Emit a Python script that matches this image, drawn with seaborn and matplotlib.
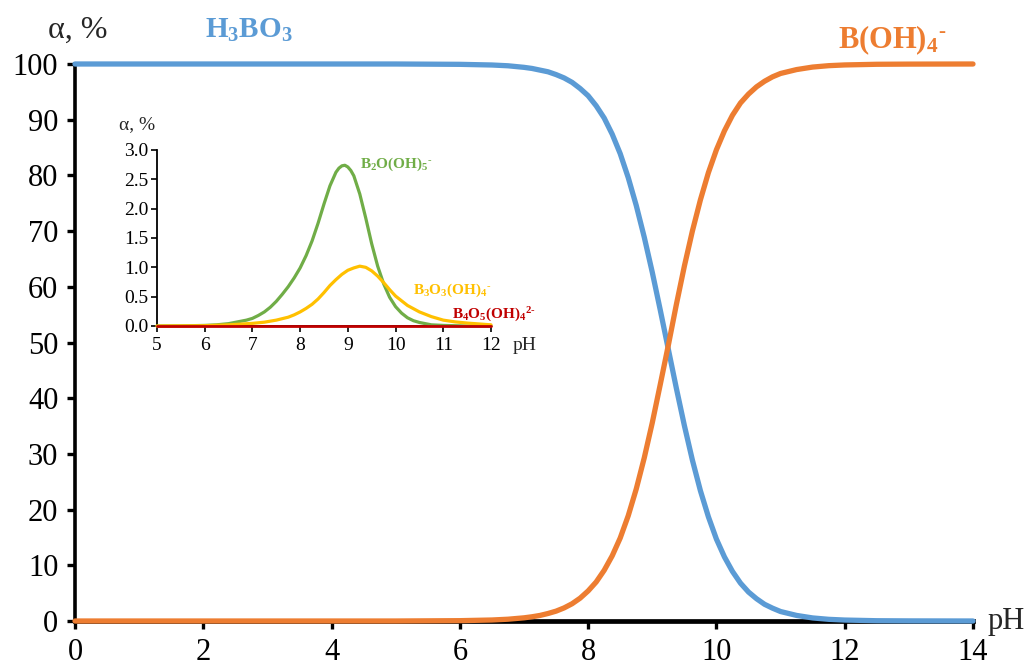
import matplotlib
matplotlib.use("Agg")
import matplotlib.pyplot as plt
import seaborn as sns
import pandas as pd
from matplotlib.ticker import FormatStrFormatter

# ---------------- data ----------------
ph_main = [0, 1, 2, 3, 4, 5, 6, 6.5, 6.75, 7.0, 7.125, 7.25, 7.375, 7.5, 7.625,
           7.75, 7.875, 8.0, 8.125, 8.25, 8.375, 8.5, 8.625, 8.75, 8.875, 9.0,
           9.125, 9.25, 9.375, 9.5, 9.625, 9.75, 9.875, 10.0, 10.125, 10.25,
           10.375, 10.5, 10.625, 10.75, 10.875, 11.0, 11.25, 11.5, 11.75, 12.0,
           12.5, 13.0, 14.0]
h3bo3 = [100, 100, 100, 100, 100, 100, 99.94, 99.82, 99.68, 99.4, 99.2, 98.9,
         98.6, 98.1, 97.5, 96.7, 95.6, 94.3, 92.5, 90.3, 87.4, 83.9, 79.6, 74.6,
         68.9, 62.6, 55.8, 48.8, 41.8, 35.1, 28.9, 23.4, 18.7, 14.7, 11.5, 8.9,
         6.8, 5.2, 4.0, 3.0, 2.3, 1.7, 1.0, 0.55, 0.3, 0.17, 0.05, 0.02, 0.0]
boh4 = [0, 0, 0, 0, 0, 0, 0.06, 0.18, 0.32, 0.57, 0.76, 1.0, 1.35, 1.77, 2.35,
        3.1, 4.1, 5.4, 7.0, 9.1, 11.7, 14.9, 18.9, 23.7, 29.3, 35.6, 42.5, 49.5,
        56.8, 63.7, 70.0, 75.6, 80.5, 84.6, 88.0, 90.8, 93.0, 94.6, 95.9, 96.9,
        97.7, 98.3, 99.0, 99.45, 99.7, 99.83, 99.95, 99.98, 100.0]

ph_green = [5.0, 5.5, 6.0, 6.25, 6.5, 6.75, 6.875, 7.0, 7.125, 7.25, 7.375, 7.5,
            7.625, 7.75, 7.875, 8.0, 8.125, 8.25, 8.375, 8.5, 8.625, 8.75, 8.8125,
            8.875, 8.9375, 9.0, 9.0625, 9.125, 9.25, 9.375, 9.5, 9.625, 9.75,
            9.875, 10.0, 10.125, 10.25, 10.375, 10.5, 10.75, 11.0, 11.5, 12.0]
b2o_oh5 = [0.0, 0.002, 0.01, 0.02, 0.04, 0.08, 0.10, 0.13, 0.18, 0.24, 0.32, 0.42,
           0.54, 0.67, 0.82, 0.99, 1.20, 1.45, 1.75, 2.08, 2.39, 2.62, 2.69, 2.73,
           2.74, 2.71, 2.65, 2.56, 2.25, 1.84, 1.40, 1.02, 0.72, 0.49, 0.33, 0.22,
           0.14, 0.09, 0.06, 0.02, 0.01, 0.0, 0.0]

ph_yellow = [5.0, 6.0, 6.5, 7.0, 7.25, 7.5, 7.75, 7.875, 8.0, 8.125, 8.25, 8.375,
             8.5, 8.625, 8.75, 8.875, 9.0, 9.125, 9.25, 9.375, 9.5, 9.625, 9.75,
             9.875, 10.0, 10.125, 10.25, 10.5, 10.75, 11.0, 11.25, 11.5, 12.0]
b3o3_oh4 = [0.0, 0.005, 0.02, 0.045, 0.065, 0.10, 0.15, 0.19, 0.24, 0.30, 0.37,
            0.46, 0.57, 0.69, 0.79, 0.88, 0.95, 0.99, 1.02, 1.00, 0.94, 0.85,
            0.74, 0.62, 0.51, 0.43, 0.35, 0.24, 0.16, 0.10, 0.07, 0.05, 0.02]

ph_red = [5, 12]
b4o5_oh4 = [0.0, 0.0]

x_ticks_main = [0, 2, 4, 6, 8, 10, 12, 14]
y_ticks_main = [0, 10, 20, 30, 40, 50, 60, 70, 80, 90, 100]
x_ticks_inset = [5, 6, 7, 8, 9, 10, 11, 12]
y_ticks_inset = [0.0, 0.5, 1.0, 1.5, 2.0, 2.5, 3.0]

# ---------------- style ----------------
sns.set_theme(style="white")
plt.rcParams['font.family'] = ['Liberation Serif', 'DejaVu Serif']
plt.rcParams['mathtext.fontset'] = 'custom'
plt.rcParams['mathtext.rm'] = 'Liberation Serif'
plt.rcParams['mathtext.it'] = 'Liberation Serif:italic'
plt.rcParams['mathtext.bf'] = 'Liberation Serif:bold'

BLUE = '#5B9BD5'
ORANGE = '#ED7D31'
GREEN = '#70AD47'
YELLOW = '#FFC000'
RED = '#C00000'

fig = plt.figure(figsize=(10.27, 6.70), dpi=100)
ax = fig.add_axes([75/1027, 1-621/670, (973-75)/1027, (621-64)/670])

df_main = pd.DataFrame({'pH': ph_main, 'H3BO3': h3bo3, 'BOH4': boh4})
sns.lineplot(data=df_main, x='pH', y='H3BO3', ax=ax, color=BLUE, lw=3.8,
             clip_on=False, zorder=3)
sns.lineplot(data=df_main, x='pH', y='BOH4', ax=ax, color=ORANGE, lw=3.8,
             clip_on=False, zorder=3)

ax.set_xlim(0, 14)
ax.set_ylim(0, 100)
ax.set_xticks(x_ticks_main)
ax.set_yticks(y_ticks_main)
ax.set_xlabel('')
ax.set_ylabel('')
for s in ['top', 'right']:
    ax.spines[s].set_visible(False)
ax.spines['left'].set_linewidth(2.6)
ax.spines['bottom'].set_linewidth(3.4)
ax.spines['left'].set_color('black')
ax.spines['bottom'].set_color('black')
ax.spines['bottom'].set_zorder(2)
ax.tick_params(axis='both', direction='out', length=6, width=2.4, color='black',
               labelsize=22, labelcolor='black', bottom=True, left=True)
ax.tick_params(axis='x', pad=6)
ax.tick_params(axis='y', pad=6)

fig.text(48/1027, 1-30/670, 'α, %', fontsize=23, ha='left', va='center')
fig.text(1025/1027, 1-622/670, 'pH', fontsize=22, ha='right', va='center')
fig.text(205/1027, 1-30/670, r'$\mathbf{H_3BO_3}$', fontsize=21, color=BLUE,
         ha='left', va='center')
fig.text(838/1027, 1-40/670, r'$\mathbf{B(OH)_4}{}^{\text{-}}$', fontsize=22,
         color=ORANGE, ha='left', va='center')

# ---------------- inset ----------------
axi = fig.add_axes([157/1027, 1-326/670, (491-157)/1027, (326-150)/670])
axi.patch.set_alpha(0)
df_g = pd.DataFrame({'pH': ph_green, 'v': b2o_oh5})
df_y = pd.DataFrame({'pH': ph_yellow, 'v': b3o3_oh4})
df_r = pd.DataFrame({'pH': ph_red, 'v': b4o5_oh4})
sns.lineplot(data=df_g, x='pH', y='v', ax=axi, color=GREEN, lw=2.3, clip_on=False, zorder=3)
sns.lineplot(data=df_y, x='pH', y='v', ax=axi, color=YELLOW, lw=2.3, clip_on=False, zorder=3)
sns.lineplot(data=df_r, x='pH', y='v', ax=axi, color=RED, lw=2.0, clip_on=False, zorder=4)
axi.set_xlim(5, 12)
axi.set_ylim(0, 3)
axi.set_xticks(x_ticks_inset)
axi.set_yticks(y_ticks_inset)
axi.yaxis.set_major_formatter(FormatStrFormatter('%.1f'))
axi.set_xlabel('')
axi.set_ylabel('')
for s in ['top', 'right']:
    axi.spines[s].set_visible(False)
for s in ['left', 'bottom']:
    axi.spines[s].set_linewidth(1.3)
    axi.spines[s].set_color('black')
axi.tick_params(axis='both', direction='out', length=4, width=1.2, color='black',
                labelsize=14, labelcolor='black', bottom=True, left=True)
axi.tick_params(axis='x', pad=4)
axi.tick_params(axis='y', pad=2)

fig.text(119/1027, 1-125/670, 'α, %', fontsize=14, ha='left', va='center')
fig.text(513/1027, 1-346/670, 'pH', fontsize=14, ha='left', va='center')
fig.text(360/1027, 1-164/670, r'$\mathbf{B_2O(OH)_5}{}^{\text{-}}$', fontsize=11,
         color=GREEN, ha='left', va='center')
fig.text(413/1027, 1-290/670, r'$\mathbf{B_3O_3(OH)_4}{}^{\text{-}}$', fontsize=11,
         color=YELLOW, ha='left', va='center')
fig.text(452/1027, 1-315/670, r'$\mathbf{B_4O_5(OH)_4}{}^{\mathbf{2}\text{-}}$',
         fontsize=11, color=RED, ha='left', va='center')

fig.savefig('out.png', dpi=100)
